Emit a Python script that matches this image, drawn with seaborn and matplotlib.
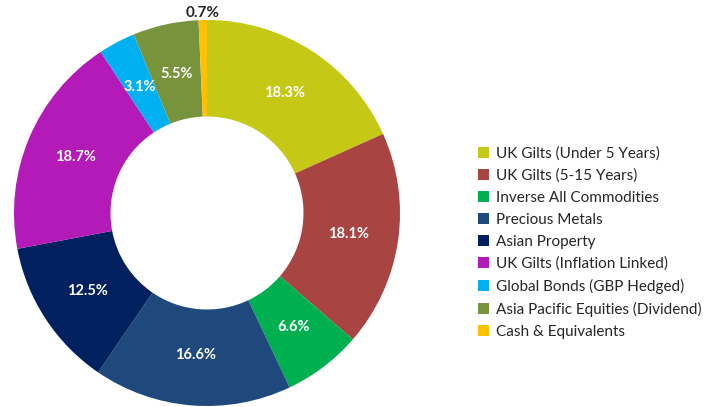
import matplotlib
matplotlib.use("Agg")
import matplotlib.pyplot as plt
import seaborn as sns
from matplotlib.patches import Patch
import numpy as np

categories = ["UK Gilts (Under 5 Years)", "UK Gilts (5-15 Years)", "Inverse All Commodities",
              "Precious Metals", "Asian Property", "UK Gilts (Inflation Linked)",
              "Global Bonds (GBP Hedged)", "Asia Pacific Equities (Dividend)", "Cash & Equivalents"]
values = [18.3, 18.1, 6.6, 16.6, 12.5, 18.7, 3.1, 5.5, 0.7]
labels = ["18.3%", "18.1%", "6.6%", "16.6%", "12.5%", "18.7%", "3.1%", "5.5%", "0.7%"]
hex_colors = ["#C5C814", "#A84442", "#00B050", "#1F497D", "#002060",
              "#B31AB8", "#00B0F0", "#77933C", "#FFC000"]

sns.set_style("white")
plt.rcParams['font.family'] = ['Lato', 'DejaVu Sans']
colors = sns.color_palette(hex_colors)

W, H = 716, 407
fig = plt.figure(figsize=(W / 100, H / 100), dpi=100)
cx, cy, R = 207, 213, 193
ax = fig.add_axes([(cx - R) / W, (H - cy - R) / H, 2 * R / W, 2 * R / H])
wedges, _ = ax.pie(values, colors=colors, startangle=90, counterclock=False,
                   radius=1.0, wedgeprops=dict(width=0.5, linewidth=0))
ax.set_aspect("equal")
ax.set_xlim(-1, 1)
ax.set_ylim(-1, 1)
ax.axis("off")

for w, lab in zip(wedges, labels):
    ang = np.deg2rad((w.theta1 + w.theta2) / 2)
    if lab == "0.7%":
        r = 1.035
        col = "#262626"
        fs = 11
    else:
        r = 0.74
        col = "white"
        fs = 10.5
    ax.text(r * np.cos(ang), r * np.sin(ang), lab, ha="center", va="center",
            color=col, fontsize=fs, fontweight="bold", clip_on=False)

handles = [Patch(facecolor=c, edgecolor="none") for c in colors]
fig.legend(handles, categories, loc="upper left", bbox_to_anchor=(478 / W, 1 - 146.5 / H),
           frameon=False, fontsize=11, handlelength=0.7, handleheight=0.7,
           handletextpad=0.45, labelspacing=0.515, borderpad=0, borderaxespad=0,
           labelcolor="#262626")

fig.savefig("out.png", dpi=100)
